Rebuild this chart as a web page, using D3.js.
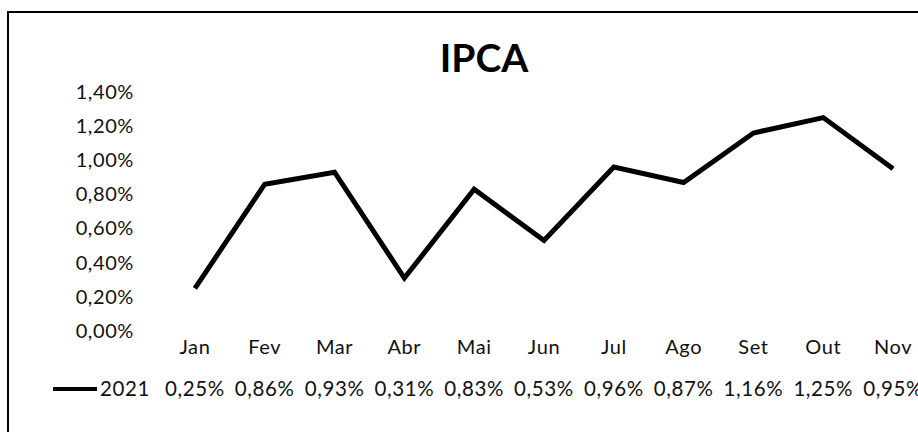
<!DOCTYPE html>
<html>
<head>
<meta charset="utf-8">
<script src="https://cdn.jsdelivr.net/npm/d3@7"></script>
<style>
  html, body { margin: 0; padding: 0; background: #fff; }
  svg { display: block; }
</style>
</head>
<body>
<div id="chart"></div>
<script>
// IPCA monthly 2021 — line chart with data table underneath

const months = ["Jan", "Fev", "Mar", "Abr", "Mai", "Jun", "Jul", "Ago", "Set", "Out", "Nov"];
const ipca2021 = [0.25, 0.86, 0.93, 0.31, 0.83, 0.53, 0.96, 0.87, 1.16, 1.25, 0.95];
const yTicks = [0, 0.2, 0.4, 0.6, 0.8, 1.0, 1.2, 1.4];
const seriesName = "2021";
const title = "IPCA";

const width = 918;
const height = 432;
const font = "Lato, 'Open Sans', sans-serif";

const svg = d3.select("#chart")
  .append("svg")
  .attr("width", width)
  .attr("height", height)
  .attr("viewBox", [0, 0, width, height]);

// chart frame (runs off the right and bottom edge)
svg.append("rect")
  .attr("x", 8)
  .attr("y", 12)
  .attr("width", width + 20)
  .attr("height", height + 20)
  .attr("fill", "#fff")
  .attr("stroke", "#000")
  .attr("stroke-width", 2);

const x = d3.scaleBand()
  .domain(months)
  .range([160, 928]);

const y = d3.scaleLinear()
  .domain([0, 1.4])
  .range([331, 92]);

const fmt = (v) => v.toFixed(2).replace(".", ",") + "%";

const styleText = (sel, size) => sel
  .attr("font-family", font)
  .attr("font-size", size)
  .attr("letter-spacing", 0.6)
  .attr("fill", "#111");

// title
svg.append("text")
  .attr("x", 484)
  .attr("y", 72)
  .attr("text-anchor", "middle")
  .attr("font-family", font)
  .attr("font-weight", 700)
  .attr("font-size", 39)
  .text(title);

// y axis labels (no axis line, no gridlines)
const yAxis = d3.axisLeft(y)
  .tickValues(yTicks)
  .tickFormat(fmt)
  .tickSize(0)
  .tickPadding(0);

svg.append("g")
  .attr("transform", "translate(134,0)")
  .call(yAxis)
  .call((g) => g.select(".domain").remove())
  .call((g) => styleText(g.selectAll("text"), 20));

// month labels
const xAxis = d3.axisBottom(x).tickSize(0).tickPadding(0);
svg.append("g")
  .attr("transform", "translate(0,340)")
  .call(xAxis)
  .call((g) => g.select(".domain").remove())
  .call((g) => styleText(g.selectAll("text"), 20));

// the line
const line = d3.line()
  .x((d, i) => x(months[i]) + x.bandwidth() / 2)
  .y((d) => y(d));

svg.append("path")
  .datum(ipca2021)
  .attr("d", line)
  .attr("fill", "none")
  .attr("stroke", "#000")
  .attr("stroke-width", 5)
  .attr("stroke-linejoin", "miter");

// data table row
const rowY = 396;
svg.append("line")
  .attr("x1", 53)
  .attr("x2", 97)
  .attr("y1", rowY - 7)
  .attr("y2", rowY - 7)
  .attr("stroke", "#000")
  .attr("stroke-width", 4);

styleText(svg.append("text"), 20.5)
  .attr("x", 100)
  .attr("y", rowY)
  .text(seriesName);

styleText(
  svg.append("g")
    .selectAll("text")
    .data(ipca2021)
    .join("text"),
  20.5)
  .attr("x", (d, i) => x(months[i]) + x.bandwidth() / 2)
  .attr("y", rowY)
  .attr("text-anchor", "middle")
  .text(fmt);
</script>
</body>
</html>
